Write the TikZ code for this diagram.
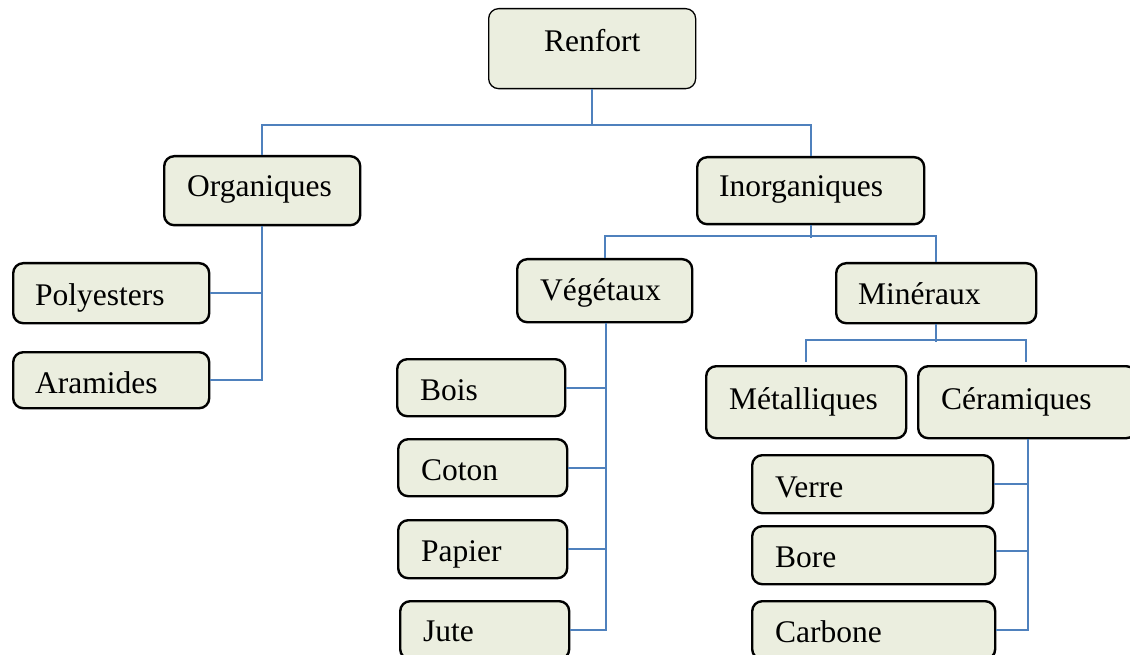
\documentclass[tikz,border=0pt]{standalone}
\usepackage{fontspec}
\setmainfont{Liberation Serif}
\definecolor{boxfill}{HTML}{EBEEDF}
\definecolor{conncol}{HTML}{4F81BD}
\begin{document}
\begin{tikzpicture}[x=1pt,y=-1pt,
  box/.style={draw=black,fill=boxfill,line width=2.4pt,rounded corners=10pt,anchor=north west,inner sep=0pt},
  rootbox/.style={box,line width=1.3pt},
  txt/.style={anchor=base west,inner sep=0pt,font=\fontsize{31.5}{36}\selectfont},
  conn/.style={draw=conncol,line width=1.8pt}]
\useasboundingbox (0,0) rectangle (1130,655);
\clip (0,0) rectangle (1130,655);
% boxes
\node[rootbox,minimum width=207pt,minimum height=80pt] (renfort) at (488,8) {};
\node[box,minimum width=196pt,minimum height=69pt] (org) at (163,155) {};
\node[box,minimum width=227pt,minimum height=67pt] (inorg) at (696,156) {};
\node[box,minimum width=196pt,minimum height=60pt] (poly) at (12,262) {};
\node[box,minimum width=196pt,minimum height=56pt] (aram) at (12,351) {};
\node[box,minimum width=175pt,minimum height=63pt] (veg) at (516,258) {};
\node[box,minimum width=200pt,minimum height=60pt] (min) at (835,262) {};
\node[box,minimum width=168pt,minimum height=57pt] (bois) at (396,358) {};
\node[box,minimum width=169pt,minimum height=57pt] (coton) at (397,438) {};
\node[box,minimum width=169pt,minimum height=58pt] (papier) at (397,519) {};
\node[box,minimum width=169pt,minimum height=58pt] (jute) at (399,600) {};
\node[box,minimum width=200pt,minimum height=72pt] (metal) at (705,365) {};
\node[box,minimum width=218pt,minimum height=72pt] (ceram) at (917,365) {};
\node[box,minimum width=241pt,minimum height=58pt] (verre) at (751,454) {};
\node[box,minimum width=243pt,minimum height=58pt] (bore) at (751,525) {};
\node[box,minimum width=243pt,minimum height=58pt] (carb) at (751,600) {};
% texts
\node[txt] (t-renfort) at (544,52) {Renfort};
\node[txt] (t-org) at (187,197) {Organiques};
\node[txt] (t-inorg) at (719,197) {Inorganiques};
\node[txt] (t-poly) at (35,305) {Polyesters};
\node[txt] (t-aram) at (35,393) {Aramides};
\node[txt] (t-veg) at (540,300) {Végétaux};
\node[txt] (t-min) at (858,304) {Minéraux};
\node[txt] (t-bois) at (420,400) {Bois};
\node[txt] (t-coton) at (421,480) {Coton};
\node[txt] (t-papier) at (421,561) {Papier};
\node[txt] (t-jute) at (423,641) {Jute};
\node[txt] (t-metal) at (729,409) {Métalliques};
\node[txt] (t-ceram) at (941,409) {Céramiques};
\node[txt] (t-verre) at (775,497) {Verre};
\node[txt] (t-bore) at (775,567) {Bore};
\node[txt] (t-carb) at (775,642) {Carbone};
% connectors
\draw[conn] (renfort.south) -- ++(0,37);
\draw[conn] (org.north) -- ++(0,-30) -| (inorg.north);
\draw[conn] (org.south) |- (aram.east);
\draw[conn] (poly.east) -- (poly.east -| org.south);
\draw[conn] (inorg.south) -- ++(0,13);
\draw[conn] (veg.north) -- ++(0,-22) -| (min.north);
\coordinate (vj) at ([xshift=1.5pt]veg.south);
\draw[conn] (vj) |- (jute.east);
\draw[conn] (bois.east) -- (bois.east -| vj);
\draw[conn] (coton.east) -- (coton.east -| vj);
\draw[conn] (papier.east) -- (papier.east -| vj);
\draw[conn] (min.south) -- ++(0,18);
\draw[conn] ([yshift=3pt]metal.north) -- ++(0,-22) -| ([yshift=3pt,xshift=-1pt]ceram.north);
\coordinate (cj) at ([xshift=1pt]ceram.south);
\draw[conn] (cj) |- (carb.east);
\draw[conn] (verre.east) -- (verre.east -| cj);
\draw[conn] ([yshift=4pt]bore.east) -- ([yshift=4pt]bore.east -| cj);
\end{tikzpicture}
\end{document}
